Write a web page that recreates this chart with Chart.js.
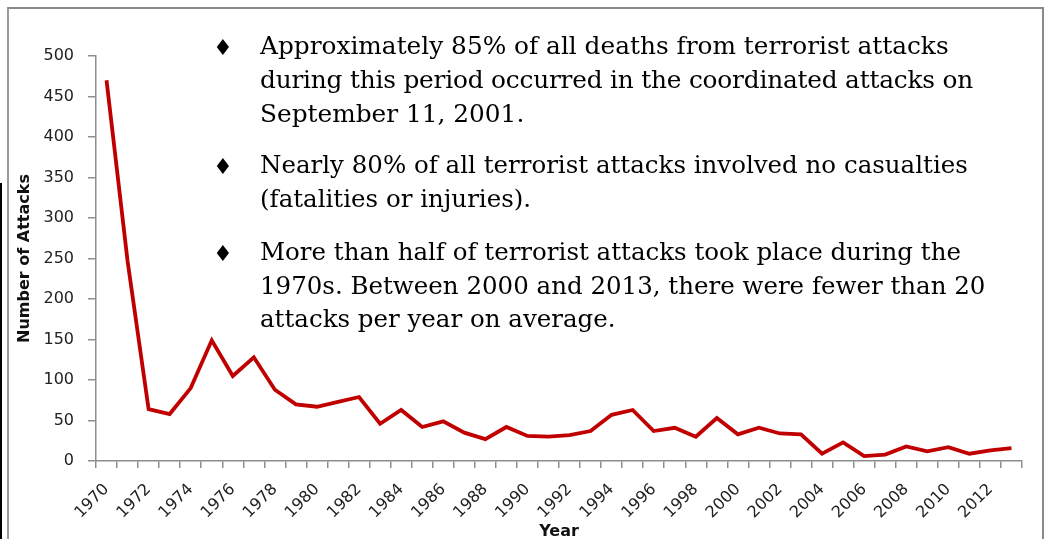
<!DOCTYPE html>
<html lang="en">
<head>
  <meta charset="UTF-8" />
  <title>Terrorist attacks per year</title>
  <script src="https://cdn.jsdelivr.net/npm/chart.js"></script>
</head>
<style>
  body {
    margin: 0;
    width: 1048px;
    height: 539px;
    overflow: hidden;
    background: #fff;
    position: relative;
  }

  .frame {
    position: absolute;
    left: 7px;
    top: 7px;
    width: 1033px;
    height: 600px;
    border-top: 2px solid #8a8a8a;
    border-left: 2px solid #9a9a9a;
    border-right: 2px solid #8a8a8a;
  }

  .edge {
    position: absolute;
    left: 0;
    top: 183px;
    width: 2px;
    height: 400px;
    background: #000;
  }

  .graphe {
    position: absolute;
    left: 0;
    top: 0;
    width: 1048px;
    height: 560px;
  }

  .notes p {
    position: absolute;
    left: 213px;
    margin: 0;
    padding-left: 47px;
    text-indent: -47px;
    font-family: "DejaVu Serif", serif;
    font-size: 24.5px;
    line-height: 34px;
    color: #000;
    white-space: nowrap;
  }

  .notes .b {
    display: inline-block;
    width: 47px;
    text-indent: 0;
    font-family: "DejaVu Sans", sans-serif;
    font-size: 22px;
    line-height: 1;
    position: relative;
    top: 1px;
  }
</style>
<body>
  <div class="frame"></div>
  <div class="edge"></div>
  <div class="graphe">
    <canvas id="myChart"></canvas>
  </div>
  <div class="notes">
    <p style="top:29px; font-size:24.8px"><span class="b">&#9830;</span>Approximately 85% of all deaths from terrorist attacks<br><span style="letter-spacing:-0.2px">during this period occurred in the coordinated attacks on</span><br>September 11, 2001.</p>
    <p style="top:148px"><span class="b">&#9830;</span>Nearly 80% of all terrorist attacks involved no casualties<br>(fatalities or injuries).</p>
    <p style="top:235px; line-height:33.5px"><span class="b">&#9830;</span>More than half of terrorist attacks took place during the<br>1970s. Between 2000 and 2013, there were fewer than 20<br>attacks per year on average.</p>
  </div>

  <script>
    const years = [
      1970, 1971, 1972, 1973, 1974, 1975, 1976, 1977, 1978, 1979,
      1980, 1981, 1982, 1983, 1984, 1985, 1986, 1987, 1988, 1989,
      1990, 1991, 1992, 1993, 1994, 1995, 1996, 1997, 1998, 1999,
      2000, 2001, 2002, 2003, 2004, 2005, 2006, 2007, 2008, 2009,
      2010, 2011, 2012, 2013
    ];
    const attacks = [
      470, 247, 64, 58, 90, 149, 105, 128, 88, 70,
      67, 73, 79, 46, 63, 42, 49, 35, 27, 42,
      31, 30, 32, 37, 57, 63, 37, 41, 30, 53,
      33, 41, 34, 33, 9, 23, 6, 8, 18, 12,
      17, 9, 13, 16
    ];
    const yTicks = [0, 50, 100, 150, 200, 250, 300, 350, 400, 450, 500];

    const axisGrey = '#8e8e8e';
    const tickFont = { family: 'DejaVu Sans', size: 16 };

    new Chart(document.getElementById('myChart'), {
      type: 'line',
      data: {
        labels: years.map(String),
        datasets: [{
          label: 'Number of Attacks',
          data: attacks,
          borderColor: '#c00000',
          borderWidth: 3.8,
          pointRadius: 0,
          tension: 0,
          fill: false
        }]
      },
      options: {
        responsive: true,
        maintainAspectRatio: false,
        animation: false,
        layout: { padding: { top: 56, right: 26, left: 0, bottom: 0 } },
        plugins: {
          legend: { display: false },
          tooltip: { enabled: false }
        },
        scales: {
          x: {
            type: 'category',
            offset: true,
            afterFit: (scale) => { scale.height = 99; },
            grid: {
              display: true,
              drawOnChartArea: false,
              offset: true,
              tickLength: 7,
              color: axisGrey,
              lineWidth: 1.5
            },
            border: { color: axisGrey, width: 1.5 },
            ticks: {
              autoSkip: false,
              minRotation: 45,
              maxRotation: 45,
              padding: 12,
              color: '#222',
              font: tickFont,
              callback: (v, i) => (i % 2 === 0 ? String(years[i]) : '')
            },
            title: {
              display: true,
              text: 'Year',
              color: '#111',
              font: { family: 'DejaVu Sans', size: 16, weight: 'bold' },
              padding: { top: 0, bottom: 19 }
            }
          },
          y: {
            min: 0,
            max: 500,
            afterFit: (scale) => { scale.width = 96; },
            afterBuildTicks: (scale) => { scale.ticks = yTicks.map(v => ({ value: v })); },
            grid: {
              display: true,
              drawOnChartArea: false,
              tickLength: 8,
              color: axisGrey,
              lineWidth: 1.5
            },
            border: { color: axisGrey, width: 1.5 },
            ticks: {
              padding: 14,
              color: '#222',
              font: tickFont
            },
            title: {
              display: true,
              text: 'Number of Attacks',
              color: '#111',
              font: { family: 'DejaVu Sans', size: 16, weight: 'bold' },
              padding: { top: 15, bottom: 0 }
            }
          }
        }
      }
    });
  </script>
</body>
</html>
